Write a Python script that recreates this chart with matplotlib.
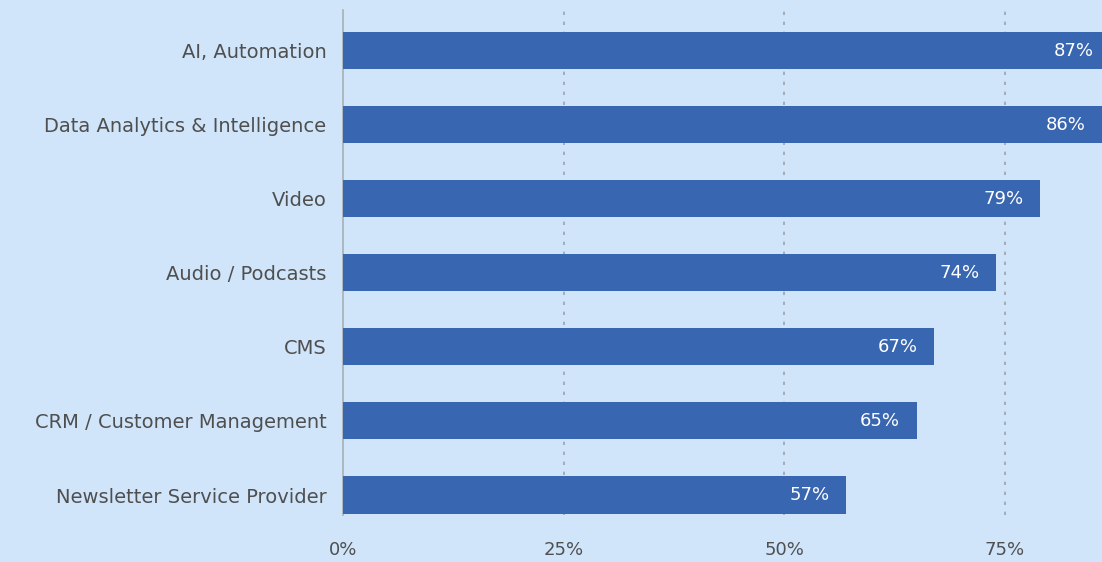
import matplotlib
matplotlib.use("Agg")
import matplotlib.pyplot as plt
from matplotlib.ticker import FuncFormatter

categories = [
    "AI, Automation",
    "Data Analytics & Intelligence",
    "Video",
    "Audio / Podcasts",
    "CMS",
    "CRM / Customer Management",
    "Newsletter Service Provider",
]
values = [87, 86, 79, 74, 67, 65, 57]
xticks = [0, 25, 50, 75]

bg = "#d0e5fa"
bar_color = "#3866b0"
text_color = "#4f4f4f"

plt.rcParams["font.family"] = ["DejaVu Sans"]

fig = plt.figure(figsize=(11.02, 5.62), dpi=100, facecolor=bg)
ax = fig.add_axes([343 / 1102, 47 / 562, 1 - 343 / 1102, 505 / 562])
ax.set_facecolor(bg)

ypos = list(range(len(categories)))
ax.barh(ypos, values, height=0.5, color=bar_color, zorder=3)

for y, v in zip(ypos, values):
    ax.text(v - 1.9, y, f"{v}%", color="white", fontsize=13,
            ha="right", va="center", zorder=4, clip_on=True)

ax.set_xlim(0, 86)
ax.set_ylim(6.27, -0.55)

ax.set_yticks(ypos)
ax.set_yticklabels(categories, fontsize=14, color=text_color)
ax.set_xticks(xticks)
ax.xaxis.set_major_formatter(FuncFormatter(lambda x, _: f"{x:.0f}%"))
ax.tick_params(axis="x", length=0, pad=19, labelsize=13, labelcolor=text_color)
ax.tick_params(axis="y", length=0, pad=12)

for x in xticks[1:]:
    ax.axvline(x, color="#9aa4ae", linestyle=(0, (2, 4)), linewidth=1.2, zorder=1)

for side in ["top", "right", "bottom"]:
    ax.spines[side].set_visible(False)
ax.spines["left"].set_color("#a8b0b8")
ax.spines["left"].set_linewidth(1.2)

fig.savefig("out.png", dpi=100, facecolor=bg)
